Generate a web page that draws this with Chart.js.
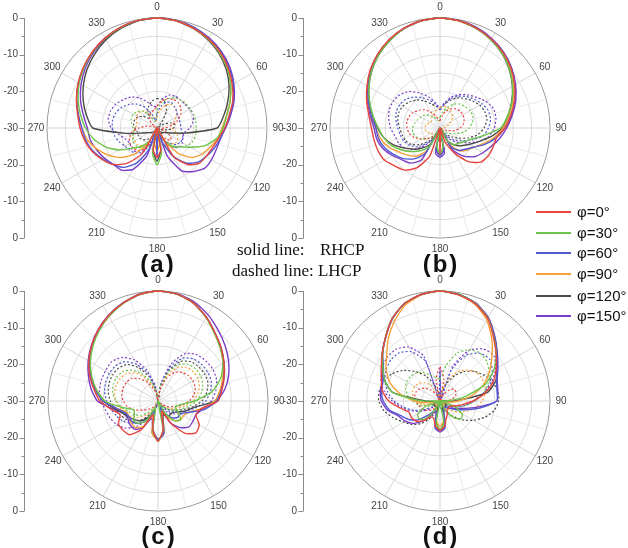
<!DOCTYPE html>
<html><head><meta charset="utf-8">
<script src="https://cdn.jsdelivr.net/npm/chart.js@4.4.1/dist/chart.umd.min.js"></script>
<style>
html,body{margin:0;padding:0;background:#fff}
body{width:628px;height:548px;position:relative;overflow:hidden;font-family:Arial,"Liberation Sans",sans-serif}
canvas.pc{position:absolute;left:0;top:0}
.tag{position:absolute;width:80px;text-align:center;font:bold 24px Arial,"Liberation Sans",sans-serif;color:#111;letter-spacing:2px;line-height:24px}
.ser{position:absolute;font:17px "Liberation Serif","Times New Roman",serif;color:#111;line-height:18px;white-space:pre}
.leg{position:absolute;left:536px;height:20px;line-height:20px;font-size:15px;color:#111;white-space:nowrap}
.leg i{display:inline-block;width:35px;height:2px;vertical-align:middle;margin-right:6px;position:relative;top:-1px}
</style></head><body>
<canvas id="ca" class="pc" width="628" height="548"></canvas>
<canvas id="cb" class="pc" width="628" height="548"></canvas>
<canvas id="cc" class="pc" width="628" height="548"></canvas>
<canvas id="cd" class="pc" width="628" height="548"></canvas>
<div class="tag" style="left:118px;top:252px">(a)</div>
<div class="tag" style="left:401px;top:252px">(b)</div>
<div class="tag" style="left:119px;top:524px">(c)</div>
<div class="tag" style="left:401px;top:524px">(d)</div>
<div class="ser" style="left:237px;top:241px">solid line:</div>
<div class="ser" style="left:320px;top:241px">RHCP</div>
<div class="ser" style="left:232px;top:262px">dashed line: LHCP</div>
<div id="legend"></div>
<script>
// ---- angles (theta, degrees) sampled every 10 deg ----
const THETA = [0,10,20,30,40,50,60,70,80,90,100,110,120,130,140,150,160,170,180,190,200,210,220,230,240,250,260,270,280,290,300,310,320,330,340,350];
const ANGLE_TICKS = ['0','30','60','90','120','150','180','210','240','270','300','330'];
const AXIS_TICKS = ['0','-10','-20','-30','-20','-10','0'];
const PHI_LABELS = ['φ=0°','φ=30°','φ=60°','φ=90°','φ=120°','φ=150°'];
const COLORS = ['#e8443f','#6cc44a','#5058d2','#f7a23c','#4a4a4a','#7a3cc6'];

// ---- (a) RHCP (solid) ----
const a_r0   = [0,-0.3,-1,-1.9,-3.1,-4.6,-6.3,-8,-10,-11.5,-13,-14,-14.5,-15,-17,-21,-30,-24,-22,-24,-30,-22,-17.5,-14.5,-12.8,-11.2,-10,-9,-8,-6.6,-5.2,-3.9,-2.7,-1.7,-0.8,-0.2];
const a_r30  = [0,-0.3,-1,-2,-3.3,-4.9,-6.8,-8.8,-10.7,-12,-13.5,-16,-19.5,-22,-23.5,-26,-30,-23,-20,-23,-30,-26,-23.5,-21.5,-18,-15,-12.5,-10.5,-8.8,-7.1,-5.5,-4.1,-2.8,-1.8,-0.9,-0.2];
const a_r60  = [0,-0.2,-0.8,-1.7,-2.9,-4.3,-6,-7.8,-9.8,-11.5,-12.5,-13.5,-14.5,-15.5,-17.5,-21,-26,-30,-23,-30,-24,-19,-16,-14.5,-13,-11.5,-10.3,-9.5,-8.2,-6.7,-5.3,-4,-2.8,-1.7,-0.8,-0.2];
const a_r90  = [0,-0.3,-1,-2,-3.3,-4.9,-6.8,-8.8,-10.8,-12.3,-13.3,-14.6,-15.8,-17.5,-21,-26,-30,-26,-23.5,-26,-30,-26,-21,-17.5,-15,-12.8,-10.8,-9.5,-8.2,-6.7,-5.3,-4,-2.8,-1.7,-0.8,-0.2];
const a_r120 = [0,-0.3,-1.1,-2.2,-3.6,-5.3,-7.3,-9.5,-11.6,-13.6,-22,-26,-27.5,-28,-28.5,-29,-30,-24,-21,-24,-30,-29,-28.5,-28,-27.5,-26,-21.5,-12.5,-10.5,-8.6,-6.8,-5.1,-3.6,-2.2,-1.1,-0.3];
const a_r150 = [0,-0.2,-0.7,-1.6,-2.7,-4.1,-5.8,-7.6,-9.6,-11.3,-12.5,-12.8,-12.8,-13,-14.5,-16.5,-22,-30,-22,-30,-22,-17,-15,-14.5,-13.5,-12.5,-11.5,-11,-9.6,-7.8,-6.1,-4.5,-3.1,-2,-1,-0.3];
// ---- (a) LHCP (dashed) ----
const a_l0   = [-24,-22.5,-21.5,-21,-21,-21.5,-22.5,-24,-26,-28,-30,-28,-26,-25,-26,-28,-30,-28,-27,-28,-26,-23.5,-22,-21.5,-21.5,-22,-23,-25,-27,-29,-30,-28,-27,-26,-25.5,-25];
const a_l30  = [-25,-23,-21.5,-20.5,-20,-19.7,-19.5,-19.3,-19.3,-19.3,-19.3,-19.5,-20.5,-22,-23.5,-24.5,-25,-26,-27,-26,-25,-24,-23,-22.5,-22.5,-23,-23.5,-23.5,-23,-22.5,-22.5,-23,-24,-26,-28,-28];
const a_l60  = [-26,-24,-22.5,-22,-22.5,-23,-23.5,-23.5,-23.5,-23.5,-23,-22.5,-22.5,-23,-24.5,-26,-28,-30,-28,-30,-26,-22.5,-21,-20.5,-20,-19,-18.2,-17.8,-17.7,-18,-18.8,-20,-21.5,-23.5,-26,-28];
const a_l90  = [-27,-25,-23.5,-22.5,-22.5,-23,-24,-25,-26,-26,-25,-24,-23.5,-23.5,-24.5,-26,-27.5,-28.5,-29,-28,-26,-24.5,-23.5,-23,-23,-23,-23.5,-24,-24.5,-24,-23.5,-23.5,-24,-25,-27,-28];
const a_l120 = [-22,-22,-23,-25,-28,-30,-28,-26,-25,-25.5,-27,-29,-30,-29,-28,-27.5,-28,-29,-30,-29,-28,-27,-26,-25,-24.5,-24.5,-24.5,-24,-23.5,-23.5,-24,-25,-26.5,-25,-23.5,-22.5];
const a_l150 = [-24,-22,-20.5,-20,-20,-20,-19.7,-19.5,-20,-21,-22.5,-22.5,-22,-22,-23,-25,-28,-30,-28,-30,-27,-23,-21.5,-21,-21.5,-21,-19.5,-17.5,-16.5,-16.5,-17,-18,-19,-20.5,-22.5,-24];

// ---- (b) RHCP ----
const b_r0   = [0,-0.3,-1,-2,-3.2,-4.7,-6.5,-8.4,-10.4,-12.3,-14.4,-14.6,-14.8,-15.5,-18,-22,-26,-30,-23,-30,-22,-17.5,-15,-13.9,-12.5,-12,-11.7,-11.3,-10.3,-8.7,-7,-5.2,-3.6,-2.2,-1.1,-0.3];
const b_r30  = [0,-0.3,-1.1,-2.2,-3.5,-5.2,-7.1,-9.1,-11.3,-13.5,-18,-21,-22.5,-23.5,-24,-26,-30,-25,-23,-25,-30,-24,-22,-20,-18,-16,-14.5,-13.2,-11.5,-9.6,-7.6,-5.7,-4,-2.5,-1.2,-0.3];
const b_r60  = [0,-0.2,-0.9,-1.9,-3.1,-4.6,-6.4,-8.3,-10.3,-12.3,-14.5,-17,-19.5,-21,-22,-24,-30,-24,-22.5,-24,-30,-22,-19,-17,-15.5,-14,-13,-12.5,-11,-9.2,-7.3,-5.4,-3.8,-2.3,-1.1,-0.3];
const b_r90  = [0,-0.3,-1,-2.1,-3.4,-5,-6.9,-8.8,-10.8,-12.8,-15,-17.5,-19.5,-20.5,-22,-25,-30,-25,-23,-25,-30,-23,-20,-18.5,-17,-15,-13.5,-12.5,-11,-9.2,-7.3,-5.5,-3.8,-2.3,-1.1,-0.3];
const b_r120 = [0,-0.3,-1.1,-2.2,-3.6,-5.3,-7.2,-9.2,-11.2,-13,-16,-19,-21,-22.5,-24,-26,-30,-24,-22.5,-24,-30,-25,-23,-21,-19,-16.5,-14.5,-13,-11.4,-9.5,-7.6,-5.7,-4,-2.5,-1.2,-0.3];
const b_r150 = [0,-0.2,-0.8,-1.8,-3,-4.5,-6.2,-8,-10,-11.8,-13.5,-15.2,-16.5,-17.8,-20,-23,-30,-23,-22,-23,-30,-20,-17.5,-16.5,-15,-13.5,-12.5,-12,-10.7,-9,-7.2,-5.4,-3.7,-2.3,-1.1,-0.3];
// ---- (b) LHCP ----
const b_l0   = [-28,-26.5,-25,-24,-23.2,-22.8,-22.8,-23,-23.5,-24.5,-26,-28,-29.5,-30,-29.5,-29,-28.5,-28.5,-29,-29,-28.5,-28,-27,-25.5,-24,-22.5,-21.5,-21,-20.8,-21,-21.5,-22.5,-23.5,-25,-26.5,-27.5];
const b_l30  = [-27,-25.5,-24,-22.5,-21.5,-21,-20.5,-20.5,-21,-22,-23.5,-25.5,-27,-28,-29,-30,-30,-29,-28.5,-29,-30,-29,-27,-25.5,-24,-23,-22.5,-22.5,-23,-23.5,-24,-24.5,-25.5,-26.5,-27.5,-28];
const b_l60  = [-25,-23.5,-21.5,-20,-18.8,-17.8,-16.8,-16,-16,-16.8,-18,-20.5,-23,-25,-27,-29,-30,-29,-28,-29,-30,-27,-24.5,-22,-20.5,-19.5,-19,-18.5,-17.8,-17.3,-17.3,-17.8,-19,-20.5,-22,-23.5];
const b_l90  = [-24.5,-24,-24,-24.5,-25,-25.5,-26.5,-27.5,-28.5,-29,-29.5,-30,-29.5,-29,-28.5,-28.5,-29,-29.5,-30,-29.5,-29,-28.5,-28,-27.5,-27,-26.5,-26,-26,-26,-26.5,-27,-27,-26.5,-26,-25.5,-25];
const b_l120 = [-24.5,-23.5,-22,-20.5,-19.5,-18.5,-17.5,-17,-17,-18,-19.5,-22,-24.5,-26.5,-28,-29,-30,-29,-28.5,-29,-30,-28,-25.5,-23,-21,-20,-19.5,-19,-18.3,-18,-18.2,-19,-20,-21.5,-23,-24];
const b_l150 = [-24.5,-23,-21,-19.5,-18.2,-17,-15.5,-14.5,-14.5,-15.2,-16.5,-19,-22,-24,-26,-28,-30,-28,-27,-28,-30,-27,-24,-21,-19,-18,-17.5,-16.5,-15.8,-15.3,-15.3,-15.8,-17,-19,-21,-23];

// ---- (c) RHCP ----
const c_r0   = [0,-0.4,-1.6,-3.6,-5.8,-7.5,-9.2,-10.8,-12.3,-13.6,-18,-19,-17,-16.5,-18.5,-23,-27,-22,-19,-22,-26,-21,-18,-17.6,-17.5,-19,-17,-14.2,-12.3,-10.2,-8.2,-6.4,-4.7,-3.1,-1.7,-0.5];
const c_r30  = [0,-0.4,-1.6,-3.7,-6,-7.8,-9.5,-11.8,-15,-20,-24,-25,-23.5,-22,-23,-26,-30,-22,-19,-22,-28,-24,-22,-21.5,-22.5,-23,-20,-15.5,-13,-10.8,-8.7,-6.8,-5,-3.3,-1.8,-0.5];
const c_r60  = [0,-0.4,-1.6,-3.6,-5.8,-7.5,-9.2,-10.8,-12.4,-14,-17,-21,-23,-23,-24,-26,-28,-21,-19.5,-22,-27,-24,-22,-21,-21,-20.5,-18.5,-15,-12.6,-10.4,-8.3,-6.5,-4.8,-3.2,-1.7,-0.5];
const c_r90  = [0,-0.4,-1.6,-3.7,-5.9,-7.7,-9.5,-11.2,-12.8,-14.5,-18,-21,-22,-22,-23,-25,-27,-21,-19.5,-21,-26,-22,-20.5,-20.5,-21,-21,-18.5,-15.5,-13,-10.7,-8.6,-6.7,-4.9,-3.2,-1.7,-0.5];
const c_r120 = [0,-0.4,-1.6,-3.7,-5.9,-7.6,-9.4,-11,-12.7,-14.5,-20,-22,-24,-25,-25,-25,-26,-21,-19.5,-21,-27,-25,-23,-22,-21,-20,-18,-15,-12.8,-10.6,-8.5,-6.6,-4.8,-3.2,-1.7,-0.5];
const c_r150 = [0,-0.3,-1.2,-2.8,-4.6,-6.2,-7.8,-9.5,-11.5,-14,-17.5,-19,-19,-19,-20.5,-23,-27,-21,-19.5,-22,-25,-21.5,-20,-20,-20.5,-20,-17.5,-13.5,-11.5,-9.8,-8,-6.3,-4.6,-3,-1.6,-0.4];
// ---- (c) LHCP ----
const c_l0   = [-30,-27,-23.5,-21,-19.8,-19.2,-19,-19.2,-20,-21.5,-23.5,-25.5,-27,-28.5,-29.5,-30,-30,-30,-30,-30,-30,-29,-27.5,-26.5,-25,-23,-21.5,-20.5,-20,-19.8,-20,-20.5,-22,-24,-26.5,-28.5];
const c_l30  = [-30,-26,-21.5,-18.5,-17,-16.5,-16.5,-17,-18,-19.5,-21.5,-23.5,-25,-26.5,-28,-29,-30,-30,-30,-30,-29.5,-28,-26,-24,-22.5,-21.5,-20,-18.5,-17.5,-17,-17,-17.5,-19,-21.5,-24.5,-27.5];
const c_l60  = [-30,-25.5,-20,-16.5,-15,-14.5,-14.3,-14.5,-15.5,-17,-19.5,-22,-24,-25.5,-27,-28.5,-30,-30,-30,-29,-27.5,-25,-22.5,-20.5,-19,-18,-17,-16,-15.2,-14.8,-14.7,-15,-16,-18.5,-22,-26.5];
const c_l90  = [-30,-26.5,-22.5,-19.5,-18,-17.5,-17.5,-18,-19,-20.5,-22.5,-24.5,-26,-27.5,-29,-30,-30,-30,-30,-30,-29,-27,-25,-23,-21.5,-20.5,-19.5,-18.5,-18,-17.8,-18,-18.5,-20,-22.5,-25.5,-28];
const c_l120 = [-30,-26,-21,-17.5,-16,-15.5,-15.3,-15.5,-16.5,-18,-20.5,-23,-25,-26.5,-28,-29.5,-30,-30,-30,-29.5,-28,-26,-23.5,-21.5,-20,-19,-18,-17,-16.2,-15.8,-15.7,-16,-17,-19.5,-23,-27];
const c_l150 = [-30,-25,-19,-15,-13.5,-13,-12.7,-13,-14,-15.5,-18,-21,-23,-24.5,-26,-27.5,-29,-30,-30,-29,-27,-24,-21,-18.5,-17,-16.2,-15.5,-14.5,-13.8,-13.5,-13.5,-13.4,-14.5,-17,-21,-26];

// ---- (d) RHCP ----
const d_r0   = [0,-0.6,-1.8,-4,-7.3,-10,-12.3,-14.5,-17.5,-21,-24,-26,-27,-27,-27,-26,-25,-23,-22,-23,-25,-25,-23,-21.5,-21,-21,-19,-16,-14,-13,-11.5,-9.5,-7,-4,-1.7,-0.5];
const d_r30  = [0,-0.5,-1.7,-3.9,-7.2,-10,-13,-17,-23,-28,-30,-26,-23,-22.5,-24,-27,-30,-24,-22,-24,-30,-27,-23.5,-22.5,-23,-26,-30,-25,-17,-14,-12,-9.6,-7,-4,-1.7,-0.5];
const d_r60  = [0,-0.5,-1.6,-3.7,-6.9,-9.7,-11.9,-13.6,-14.2,-14.5,-19,-23,-25.5,-27,-28,-28,-27,-22.5,-22,-22.5,-27,-27,-25,-22,-20,-18.5,-16,-14.5,-13.8,-13.5,-12.2,-9.6,-7.1,-4.1,-1.7,-0.5];
const d_r90  = [0,-0.6,-2,-4.5,-8,-11.5,-14.5,-17.5,-21,-25,-28,-30,-29,-28.5,-28.5,-28,-27,-24.5,-23,-24.5,-27,-28,-28.5,-28.5,-29,-30,-27,-23,-19,-15.5,-13,-11,-8,-5,-2.2,-0.6];
const d_r120 = [0,-0.5,-1.6,-3.8,-7,-9.8,-12,-13.8,-17,-26,-30,-29,-28,-28,-28,-28,-28,-24,-22,-24,-28,-28,-28,-28,-28,-29,-29,-26,-17,-14,-12,-9.5,-7,-4,-1.7,-0.5];
const d_r150 = [0,-0.5,-1.6,-3.7,-6.8,-9.6,-11.8,-13.4,-14,-14.5,-20,-24,-26,-27,-28,-28,-27,-22.5,-21.5,-22.5,-27,-26,-23,-20.5,-19,-18,-15.5,-14,-13.5,-13.3,-12,-9.5,-7,-4,-1.7,-0.5];
// ---- (d) LHCP ----
const d_l0   = [-20.7,-24,-30,-28,-26,-25,-25,-25.5,-26.5,-28,-29.5,-30,-29,-28,-27.5,-28,-29,-30,-30,-30,-29,-28,-27,-26,-25,-24.5,-24,-23.5,-23,-23,-23.5,-24.5,-26,-28,-30,-24];
const d_l30  = [-24,-20,-16,-13.8,-13,-13.3,-14.5,-16,-18,-20.5,-23,-25.5,-27.5,-29,-30,-30,-30,-30,-30,-30,-30,-30,-30,-30,-28,-26,-24,-22.5,-21,-20,-19.5,-19.5,-20,-21,-22.5,-23.5];
const d_l60  = [-22,-30,-21,-15.5,-13,-12.3,-13.5,-15.5,-18,-20.5,-23,-25,-27,-28.5,-30,-30,-30,-30,-30,-30,-30,-30,-30,-28,-25.5,-22.5,-20,-17.5,-15.5,-14,-13,-12.5,-12.8,-14.5,-18.5,-30];
const d_l90  = [-30,-27,-24,-21,-19,-17.5,-17,-17,-17.5,-18.5,-20,-22,-24,-26,-28,-30,-30,-30,-30,-30,-30,-30,-30,-30,-29,-27,-25,-23.5,-22.5,-22,-22,-22.5,-23.5,-25,-27,-29];
const d_l120 = [-30,-28,-25,-22,-19.5,-17.5,-16,-14.8,-14,-14,-15,-17,-19.5,-22,-24.5,-27,-29,-30,-30,-29,-27,-24.5,-22,-20,-18.5,-16.5,-14.5,-13.3,-13.2,-13.8,-15,-17,-19.5,-22,-25,-28];
const d_l150 = [-21,-30,-20,-14,-11.5,-10.8,-12.5,-15,-18,-21,-24,-26,-27.5,-29,-30,-30,-29,-28,-28,-28,-29,-30,-29,-27,-24.5,-22,-19.5,-17,-14.5,-12.8,-11.8,-11.3,-11.5,-13,-17,-30];

// ---- plot placement (centre in page px) ----
const PLOTS = [
  {id:'ca', cx:157, cy:128, axisX:24, rhcp:[a_r0,a_r30,a_r60,a_r90,a_r120,a_r150], lhcp:[a_l0,a_l30,a_l60,a_l90,a_l120,a_l150]},
  {id:'cb', cx:440, cy:128, axisX:303, rhcp:[b_r0,b_r30,b_r60,b_r90,b_r120,b_r150], lhcp:[b_l0,b_l30,b_l60,b_l90,b_l120,b_l150]},
  {id:'cc', cx:158, cy:401, axisX:24, rhcp:[c_r0,c_r30,c_r60,c_r90,c_r120,c_r150], lhcp:[c_l0,c_l30,c_l60,c_l90,c_l120,c_l150]},
  {id:'cd', cx:440, cy:401, axisX:303, rhcp:[d_r0,d_r30,d_r60,d_r90,d_r120,d_r150], lhcp:[d_l0,d_l30,d_l60,d_l90,d_l120,d_l150]}
];
const R = 110, W = 628, H = 548;

const decor = {
  id: 'decor',
  beforeDatasetsDraw(chart) {
    // minor 15-degree spokes
    const s = chart.scales.r, ctx = chart.ctx;
    ctx.save();
    ctx.strokeStyle = '#e6e6e6'; ctx.lineWidth = 0.8;
    for (let k = 0; k < 12; k++) {
      const p = s.getPointPosition(k * 3 + 1.5, s.drawingArea);
      ctx.beginPath(); ctx.moveTo(s.xCenter, s.yCenter); ctx.lineTo(p.x, p.y); ctx.stroke();
    }
    ctx.restore();
  },
  afterDraw(chart, args, opts) {
    const s = chart.scales.r, ctx = chart.ctx;
    ctx.save();
    ctx.font = '10px Arial, "Liberation Sans", sans-serif';
    ctx.fillStyle = '#444'; ctx.textAlign = 'center'; ctx.textBaseline = 'middle';
    ANGLE_TICKS.forEach((lab, k) => {
      const p = s.getPointPosition(k * 3, s.drawingArea + 11);
      ctx.fillText(lab, p.x, p.y);
    });
    // left dB axis built on the radial scale
    const ax = opts.axisX;
    const full = s.getDistanceFromCenterForValue(0);
    ctx.strokeStyle = '#8a8a8a'; ctx.lineWidth = 1;
    ctx.beginPath(); ctx.moveTo(ax + 0.5, s.yCenter - full); ctx.lineTo(ax + 0.5, s.yCenter + full); ctx.stroke();
    ctx.textAlign = 'right';
    for (let v = -30; v <= 0; v += 5) {
      const d = s.getDistanceFromCenterForValue(v);
      const len = (v % 10 === 0) ? 5 : 3;
      [s.yCenter - d, s.yCenter + d].forEach(y => {
        const yy = Math.round(y) + 0.5;
        ctx.beginPath(); ctx.moveTo(ax + 0.5 - len, yy); ctx.lineTo(ax + 0.5, yy); ctx.stroke();
      });
    }
    AXIS_TICKS.forEach((lab, i) => {
      const d = s.getDistanceFromCenterForValue(Number(lab));
      const y = i < 3 ? s.yCenter - d : (i === 3 ? s.yCenter : s.yCenter + d);
      ctx.fillText(lab, ax - 6, y);
    });
    ctx.restore();
  }
};

PLOTS.forEach(pl => {
  const datasets = [];
  pl.rhcp.forEach((arr, i) => datasets.push({data: arr, borderColor: COLORS[i], borderWidth: 1.4, pointRadius: 0, fill: false, tension: 0.2}));
  pl.lhcp.forEach((arr, i) => datasets.push({data: arr, borderColor: COLORS[i], borderWidth: 1.2, borderDash: [2, 2], pointRadius: 0, fill: false, tension: 0.2}));
  new Chart(document.getElementById(pl.id), {
    type: 'radar',
    data: {labels: THETA.map(String), datasets},
    options: {
      responsive: false, animation: false, devicePixelRatio: 1, events: [],
      layout: {padding: {left: pl.cx - R, right: W - pl.cx - R, top: pl.cy - R, bottom: H - pl.cy - R}},
      plugins: {legend: {display: false}, tooltip: {enabled: false}, decor: {axisX: pl.axisX}},
      scales: {r: {
        min: -30, max: 0,
        ticks: {display: false, stepSize: 5},
        grid: {circular: true, color: c => (c.tick && c.tick.value === 0) ? '#9a9a9a' : '#dcdcdc', lineWidth: 1},
        angleLines: {display: true, color: '#d6d6d6', lineWidth: c => (c.index % 3 === 0 ? 1 : 0)},
        pointLabels: {display: false}
      }}
    },
    plugins: [decor]
  });
});

// legend
const lg = document.getElementById('legend');
const LEG_Y = [202, 223, 243, 264, 286, 306];
PHI_LABELS.forEach((t, i) => {
  const d = document.createElement('div');
  d.className = 'leg'; d.style.top = LEG_Y[i] + 'px';
  d.innerHTML = '<i style="background:' + COLORS[i] + '"></i>' + t;
  lg.appendChild(d);
});
</script>
</body></html>
